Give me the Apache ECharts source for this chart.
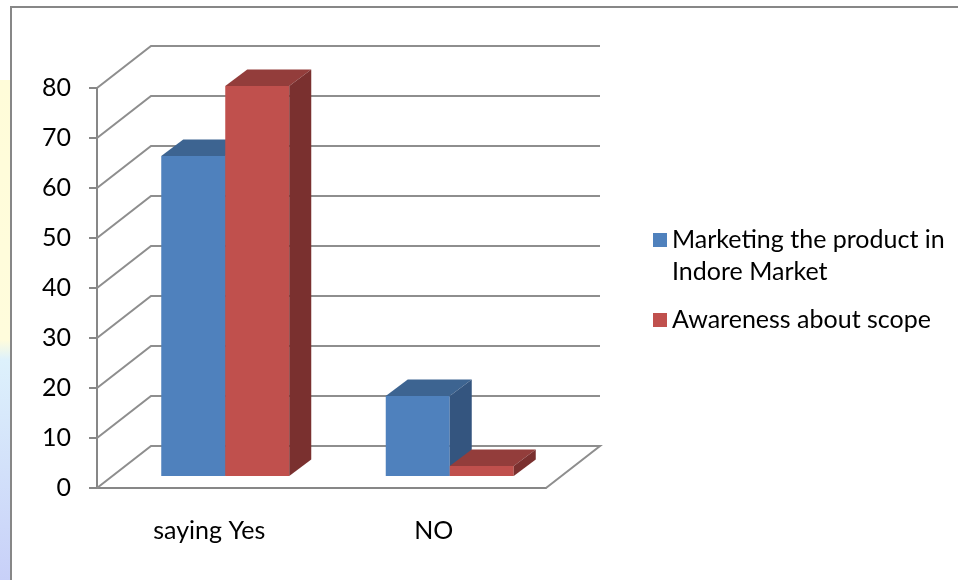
<!DOCTYPE html>
<html>
<head>
<meta charset="utf-8">
<script src="https://cdn.jsdelivr.net/npm/echarts/dist/echarts.min.js"></script>
<style>
  html, body { margin: 0; padding: 0; background: #fff; }
  #main { width: 958px; height: 580px; }
</style>
</head>
<body>
<div id="main"></div>
<script>
// chart data
var categories = ['saying Yes', 'NO'];
var seriesNames = ['Marketing the product in Indore Market', 'Awareness about scope'];
var marketingValues = [64, 16];
var awarenessValues = [78, 2];
var yTicks = [0, 10, 20, 30, 40, 50, 60, 70, 80];

// 3d look
var WALL_DX = 54, WALL_DY = -42;   // depth of the floor / back wall
var BAR_DX = 16, BAR_DY = -12;     // bars sit a bit back from the front edge
var BAR_DEPTH_X = 22, BAR_DEPTH_Y = -16.5;
var BAR_RATIO = 64 / 224.5;
var FONT = 'Lato, "Liberation Sans", sans-serif';

var palette = [
  { front: '#4F81BD', top: '#3D6491', side: '#34557F' },
  { front: '#C0504D', top: '#933D3B', side: '#7A302F' }
];

function frameItem(params, api) {
  var cs = params.coordSys;
  var y = api.coord([0, api.value(1)])[1];
  var x0 = cs.x, x1 = cs.x + cs.width;
  var pts = [[x0, y], [x0 + WALL_DX, y + WALL_DY], [x1 + WALL_DX, y + WALL_DY]];
  if (api.value(1) === 0) {
    pts.push([x1, y]);
  }
  return {
    type: 'polyline',
    shape: { points: pts },
    style: { stroke: '#8E8E8E', lineWidth: 2, fill: null }
  };
}

function barRenderer(idx) {
  var c = palette[idx];
  return function (params, api) {
    var cat = api.value(0);
    var base = api.coord([cat, 0]);
    var top = api.coord([cat, api.value(1)]);
    var bw = api.size([1, 0])[0] * BAR_RATIO;
    var xl = base[0] - bw + idx * bw + BAR_DX;
    var xr = xl + bw;
    var yb = base[1] + BAR_DY;
    var yt = top[1] + BAR_DY;
    return {
      type: 'group',
      children: [
        { type: 'rect', shape: { x: xl, y: yt, width: bw, height: yb - yt }, style: { fill: c.front } },
        { type: 'polygon', shape: { points: [[xl, yt], [xr, yt], [xr + BAR_DEPTH_X, yt + BAR_DEPTH_Y], [xl + BAR_DEPTH_X, yt + BAR_DEPTH_Y]] }, style: { fill: c.top } },
        { type: 'polygon', shape: { points: [[xr, yt], [xr + BAR_DEPTH_X, yt + BAR_DEPTH_Y], [xr + BAR_DEPTH_X, yb + BAR_DEPTH_Y], [xr, yb]] }, style: { fill: c.side } }
      ]
    };
  };
}

var chart = echarts.init(document.getElementById('main'));

var option = {
  animation: false,
  backgroundColor: '#fff',
  graphic: [
    {
      type: 'rect', z: -10,
      shape: { x: 0, y: 80, width: 10, height: 500 },
      style: {
        fill: new echarts.graphic.LinearGradient(0, 0, 0, 1, [
          { offset: 0, color: '#FFFCD9' },
          { offset: 0.52, color: '#FFFCDC' },
          { offset: 0.56, color: '#DDF1FC' },
          { offset: 1, color: '#C8D0F8' }
        ])
      }
    },
    {
      type: 'rect', z: -10,
      shape: { x: 11, y: 7, width: 980, height: 620 },
      style: { fill: '#fff', stroke: '#878787', lineWidth: 2 }
    }
  ],
  grid: { left: 97, right: 412, top: 88, bottom: 92 },
  legend: [
    {
      left: 648, top: 187, orient: 'vertical',
      icon: 'rect', itemWidth: 14, itemHeight: 14,
      data: [seriesNames[0]],
      // blank first line so the square lines up with the first text line
      formatter: function () { return ' \nMarketing the product in\nIndore Market'; },
      textStyle: { fontFamily: FONT, fontSize: 25, lineHeight: 32, color: '#000' }
    },
    {
      left: 648, top: 299, orient: 'vertical',
      icon: 'rect', itemWidth: 14, itemHeight: 14,
      data: [seriesNames[1]],
      textStyle: { fontFamily: FONT, fontSize: 25, lineHeight: 32, color: '#000' }
    }
  ],
  xAxis: {
    type: 'category',
    data: categories,
    axisLine: { lineStyle: { color: '#878787', width: 2 } },
    axisTick: { length: 7, lineStyle: { color: '#878787', width: 2 } },
    axisLabel: { margin: 30, fontFamily: FONT, fontSize: 25, color: '#000' },
    splitLine: { show: false }
  },
  yAxis: {
    type: 'value',
    min: 0, max: 80, interval: 10,
    axisLine: { show: true, lineStyle: { color: '#878787', width: 2 } },
    axisTick: { show: true, length: 8, lineStyle: { color: '#878787', width: 2 } },
    axisLabel: { margin: 26, fontFamily: FONT, fontSize: 25, color: '#000' },
    splitLine: { show: false }
  },
  series: [
    {
      name: 'frame',
      type: 'custom',
      silent: true,
      z: 1,
      renderItem: frameItem,
      data: yTicks.map(function (v) { return [0, v]; })
    },
    {
      name: seriesNames[0],
      type: 'custom',
      z: 3,
      itemStyle: { color: palette[0].front },
      renderItem: barRenderer(0),
      data: marketingValues.map(function (v, i) { return [i, v]; })
    },
    {
      name: seriesNames[1],
      type: 'custom',
      z: 4,
      itemStyle: { color: palette[1].front },
      renderItem: barRenderer(1),
      data: awarenessValues.map(function (v, i) { return [i, v]; })
    }
  ]
};

chart.setOption(option);
</script>
</body>
</html>
